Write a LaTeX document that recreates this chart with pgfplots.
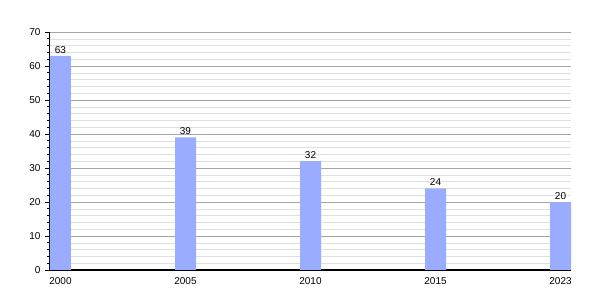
\documentclass[border=0pt]{standalone}
\usepackage{pgfplots}
\pgfplotsset{compat=1.18}
\usepackage{fontspec}
\setmainfont{Liberation Sans}
\definecolor{barblue}{RGB}{153,172,255}
\begin{document}
\begin{tikzpicture}
\path[use as bounding box] (-50pt,-30pt) rectangle (550pt,270pt);
\begin{axis}[
  at={(0pt,0pt)}, anchor=south west,
  scale only axis, width=521pt, height=238pt,
  font=\fontsize{10}{12}\selectfont,
  /pgf/number format/assume math mode=true,
  xmin=-0.084, xmax=4.084,
  ymin=0, ymax=70,
  ytick={0,10,...,70},
  minor y tick num=4,
  xtick={0,1,2,3,4},
  xticklabels={2000,2005,2010,2015,2023},
  xtick style={draw=none},
  axis x line*=bottom,
  axis y line*=left,
  axis line style={black, line width=1pt},
  tick align=outside,
  major tick length=5pt,
  minor tick length=3pt,
  y tick style={black, line width=0.8pt},
  ymajorgrids, yminorgrids,
  major grid style={gray!70, line width=0.8pt},
  minor grid style={gray!25, line width=0.6pt},
  yticklabel style={xshift=-1pt},
  xticklabel style={yshift=1pt},
  nodes near coords,
  nodes near coords style={font=\fontsize{10}{12}\selectfont, yshift=-1pt},
  every node near coord/.append style={/pgf/number format/assume math mode=true},
]
\addplot[ybar, bar width=21pt, fill=barblue, draw=none] coordinates {
(0,63) (1,39) (2,32) (3,24) (4,20)
};
\end{axis}
\end{tikzpicture}
\end{document}
